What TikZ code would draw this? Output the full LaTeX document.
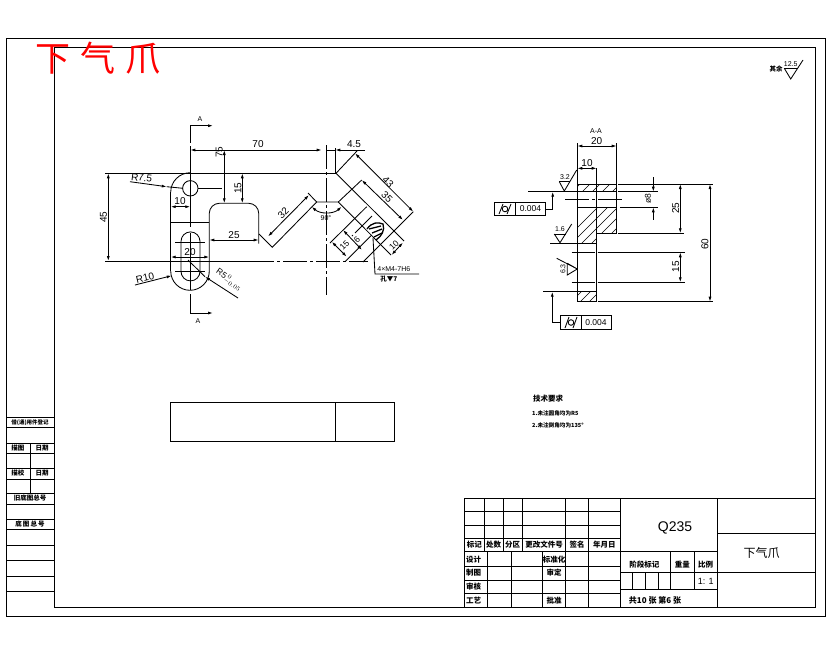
\documentclass[tikz,border=0pt]{standalone}
\usepackage{fontspec}
\setmainfont{Liberation Sans}
\newfontfamily\cjk{Noto Sans CJK SC}
\usetikzlibrary{arrows.meta}
\tikzset{
  >={Latex[length=5pt,width=3pt]},
  every node/.style={inner sep=0pt},
  cl/.style={dash pattern=on 24pt off 3pt on 3pt off 3pt},
  hatch/.style={line width=0.6pt},
  dimtext/.style={font=\fontsize{10}{10}\selectfont},
  armtext/.style={font=\fontsize{8.5}{9}\selectfont},
  smalltext/.style={font=\fontsize{7}{7}\selectfont},
  celltext/.style={font=\cjk\bfseries\fontsize{7.5}{8}\selectfont},
  tabletext/.style={font=\cjk\bfseries\fontsize{6.5}{7}\selectfont}
}
\begin{document}
\begin{tikzpicture}[x=1pt,y=-1pt,line width=0.85pt]
  \useasboundingbox (0,0) rectangle (830,654);

  \draw (6,38.5) rectangle (825,616.7);
  \draw (54.3,47.3) rectangle (815.7,607.3);

  \node[text=red,font=\cjk\fontsize{35}{35}\selectfont] (title) at (98,58.5) {下\hspace{10pt}气\hspace{10pt}爪};

  \node[tabletext] (note) at (776,68.5) {其余};
  \draw (784.3,68.3) -- (790.7,79) -- (803,60); \draw (784.3,68.3) -- (796.7,68.3);
  \node[smalltext] (ra) at (790.7,64) {12.5};

  \draw (105,173.3) -- (335.5,173.3);
  \draw (170.7,192.3) arc[start angle=180,end angle=270,radius=19.6];
  \draw (170.7,192.3) -- (170.7,271);
  \draw (209.3,271) arc[start angle=0,end angle=180,radius=19.3];
  \draw (170.7,222.3) -- (209.3,222.3);
  \draw (209.3,271) -- (209.3,213.3) arc[start angle=180,end angle=270,radius=10] -- (248.7,203.3) arc[start angle=270,end angle=360,radius=10] -- (258.7,243.5);
  \draw (181,241.4) arc[start angle=180,end angle=360,radius=9.5] -- (200,271.4) arc[start angle=0,end angle=180,radius=9.5] -- cycle;
  \draw (190.3,188.3) circle[radius=7.7];
  \draw (198,188.3) -- (222,188.3);

  \draw (190.3,125.7) -- (190.3,143); \draw (190.3,146) -- (190.3,227);
  \draw (190.3,233) -- (190.3,290); \draw (190.3,294) -- (190.3,313);
  \draw[->] (190.3,125.7) -- (213,125.7);
  \draw[->] (190.3,313) -- (213,313);
  \node[smalltext] (secta) at (200,119) {A};
  \node[smalltext] (sectb) at (198,321) {A};

  \draw (105,261) -- (250,261);
  \draw[cl] (250,261) -- (368,261);
  \draw (175,242.7) -- (205,242.7);
  \draw (175,271.7) -- (205,271.7);
  \draw[cl] (326,145) -- (326,295);

  \draw (259,234) -- (272.3,247.3) -- (316.7,202) -- (338.3,202);
  \draw (316.7,202) -- (308,193);
  \draw[<->] (268,236.5) -- (309,195);
  \node[dimtext,rotate=45] (d32) at (283.3,213) {32};

  \draw (336,173.3) -- (394,231) -- (404,241);
  \draw (338.3,202) -- (391,255);
  \draw (336,173.3) -- (357,151);
  \draw (338.3,202) -- (361.7,180);
  \draw (330,243) -- (366.7,206.7);
  \draw (413.3,211.7) -- (363,262);
  \draw (345,261.7) -- (371.7,235);
  \draw[cl] (372,216) -- (352,236);
  \draw[<->] (355,153.3) -- (413.3,211.7);
  \draw[<->] (361.7,180) -- (403,220);
  \draw[<->] (331.7,241.7) -- (346.7,256.7);
  \draw[<->] (343,230) -- (362,250);
  \draw[<->] (391.5,255) -- (403,242.5);
  \node[dimtext,rotate=-45] (d43) at (388,181.7) {43};
  \node[dimtext,rotate=-45] (d35) at (387,197) {35};
  \node[armtext,rotate=45] (d15b) at (344.5,245.5) {15};
  \node[armtext,rotate=45] (d6) at (357,239.5) {6};
  \node[armtext,rotate=45] (d10b) at (394,245) {10};

  \draw[line width=1.3pt] (367,229) .. controls (372,222) and (378,222) .. (383,224) .. controls (385,230) and (382,236) .. (376,240);
  \draw[line width=1.3pt] (369,229) -- (381,226); \draw[line width=1.3pt] (372,233) -- (382,229); \draw[line width=1.3pt] (374,237) -- (382,233);
  \draw (373,238) -- (375,274) -- (419,274);
  \node[smalltext,anchor=west] (hole) at (377,269.5) {4×M4-7H6};
  \node[tabletext,anchor=west] (depth) at (380,279.5) {孔▼7};

  \draw[<->] (321.7,150) -- (190.3,150);
  \draw (326,150) -- (335.3,150);
  \draw[->] (365,150) -- (335.3,150);
  \draw (335.3,148) -- (335.3,173.3);
  \node[dimtext] (d70) at (258,144.5) {70};
  \node[dimtext] (d45a) at (354,144.5) {4.5};
  \draw[<->] (224.3,150) -- (224.3,203.3);
  \node[dimtext,rotate=90] (d75) at (219.3,152) {75};
  \draw[<->] (242.3,173.3) -- (242.3,203.3);
  \node[dimtext,rotate=90] (d15a) at (238,188) {15};
  \draw[<->] (108.3,173.3) -- (108.3,261);
  \node[dimtext,rotate=90] (d45) at (103.5,217) {45};
  \draw[<->] (170.7,206.7) -- (190.3,206.7);
  \node[dimtext] (d10a) at (180,200.7) {10};
  \draw[<->] (209.3,240) -- (258.7,240);
  \node[dimtext] (d25a) at (234,235) {25};
  \draw[<->] (170.7,257) -- (209.3,257);
  \node[dimtext] (d20a) at (190,251.7) {20};
  \draw[<->] (341.7,206.7) arc[start angle=49,end angle=131,radius=22.9];
  \node[smalltext] (d90) at (326,218.5) {90°};

  \draw[->] (130,181.7) -- (166.7,186.7); \draw (166.7,186.7) -- (183,188.3);
  \node[dimtext,rotate=-7] (r75) at (141.7,178) {R7.5};
  \draw[->] (135,285) -- (171.7,275.7);
  \node[dimtext,rotate=13] (r10) at (145,278) {R10};
  \draw[->] (238,298) -- (205,276.7); \draw (205,276.7) -- (188,260);
  \node[armtext,rotate=-35] (r5) at (229,280) {R5$^{\,0}_{-0.05}$};

  \draw (577.3,143) -- (577.3,301.7) -- (596.7,301.7) -- (596.7,168);
  \draw (616.7,143) -- (616.7,233.3) -- (596.7,233.3);
  \draw (577.3,184) -- (616.7,184);
  \draw (528,191.7) -- (616.7,191.7);
  \draw (577.3,207.3) -- (616.7,207.3);
  \draw (550,243.3) -- (596.7,243.3);
  \draw (543,291.7) -- (596.7,291.7);

  \begin{scope}
    \clip (577.3,184) rectangle (616.7,191.7);
    \foreach \hx in {570,580,590,600,610,620} \draw[hatch] (\hx,194) -- ++(12,-12);
  \end{scope}
  \begin{scope}
    \clip (577.3,207.3) -- (616.7,207.3) -- (616.7,233.3) -- (596.7,233.3) -- (596.7,243.3) -- (577.3,243.3) -- cycle;
    \foreach \hx in {560,570,...,640} \draw[hatch] (\hx,245) -- ++(40,-40);
  \end{scope}
  \begin{scope}
    \clip (577.3,291.7) rectangle (596.7,301.7);
    \foreach \hx in {570,579,588,597} \draw[hatch] (\hx,303) -- ++(12,-12);
  \end{scope}

  \draw[cl] (565,199.3) -- (623,199.3);
  \draw[dash pattern=on 23pt off 3pt on 3pt off 3pt] (571.7,252.3) -- (600,252.3);
  \draw (600,252.3) -- (685,252.3);
  \draw[dash pattern=on 23pt off 3pt on 3pt off 3pt] (571.7,282.3) -- (600,282.3);
  \draw (600,282.3) -- (685,282.3);

  \draw (618,184) -- (713,184);
  \draw (618,233.3) -- (684,233.3);
  \draw (598,301.7) -- (713,301.7);
  \draw (618,191.7) -- (658,191.7);
  \draw (620,207.3) -- (658,207.3);

  \node[smalltext] (secname) at (596,131) {A-A};
  \draw[<->] (577.3,146) -- (616.7,146);
  \node[dimtext] (d20b) at (596.7,141) {20};
  \draw[<->] (577.3,168.3) -- (596.7,168.3);
  \node[dimtext] (d10c) at (587,163) {10};
  \draw[<->] (680.3,184) -- (680.3,233.3);
  \node[dimtext,rotate=90] (d25b) at (675.7,208) {25};
  \draw[<->] (710,184) -- (710,301.7);
  \node[dimtext,rotate=90] (d60) at (705,244) {60};
  \draw[<->] (680.3,252.3) -- (680.3,282.3);
  \node[dimtext,rotate=90] (d15c) at (675.7,266.7) {15};
  \draw[<-] (653.3,191.7) -- (653.3,176.7);
  \draw[<-] (653.3,207.3) -- (653.3,220);
  \node[armtext,rotate=90] (d8) at (648,198.5) {ø8};

  \draw (559.3,181.7) -- (564.3,191) -- (576.7,170); \draw (559.3,181.7) -- (570,181.7);
  \node[smalltext] (r32) at (565,177) {3.2};
  \draw (554.3,234) -- (560,242.7) -- (571.7,224); \draw (554.3,234) -- (566,234);
  \node[smalltext] (r16) at (560,229.5) {1.6};
  \draw (567.3,263.3) -- (577.3,269) -- (556.7,258.3); \draw (567.3,263.3) -- (567.3,275) -- (577.3,269);
  \node[smalltext,rotate=90] (r63) at (563,269) {6.3};

  \draw (494.3,202.3) rectangle (545.7,215.7);
  \draw (515,202.3) -- (515,215.7);
  \draw (499,214) -- (503,204); \draw (507,214) -- (511,204); \draw (505,209) circle[radius=2.8];
  \node[armtext] (tol1) at (530.5,209) {0.004};
  \draw[->] (545.7,209) -- (552.7,209) -- (552.7,191.7);

  \draw (560.3,315.3) rectangle (611,329.3);
  \draw (581,315.3) -- (581,329.3);
  \draw (565,328) -- (569,317); \draw (573,328) -- (577,317); \draw (571,322.5) circle[radius=2.8];
  \node[armtext] (tol2) at (596,322.3) {0.004};
  \draw[->] (560.3,322) -- (552.3,322) -- (552.3,291.7);

  \draw (170.3,402.7) rectangle (394.3,441);
  \draw (335,402.7) -- (335,441);

  \node[celltext] (req) at (548,399) {技术要求};
  \node[anchor=west,font=\cjk\bfseries\fontsize{5.6}{6}\selectfont] (req1) at (531.7,413.7) {1.未注圆角均为R5};
  \node[anchor=west,font=\cjk\bfseries\fontsize{5.6}{6}\selectfont] (req2) at (531.7,425.7) {2.未注倒角均为135°};

  \foreach \ly in {417.3,427.7,443.3,453.3,468.3,479,493.3,504.3,519.3,529.3,545,560.7,576,591.7} \draw (6,\ly) -- (54.3,\ly);
  \draw (30.3,443.3) -- (30.3,493.3);
  \node[font=\cjk\bfseries\fontsize{5.5}{6}\selectfont] (borrow) at (30,422.7) {借(通)用件登记};
  \node[tabletext] (trace) at (18,448.3) {描图}; \node[tabletext] (date1) at (42,448.3) {日期};
  \node[tabletext] (check) at (18,473.3) {描校}; \node[tabletext] (date2) at (42,473.3) {日期};
  \node[tabletext] (oldno) at (30,498.3) {旧底图总号};
  \node[tabletext] (baseno) at (30,524.3) {底\,图\,总\,号};

  \foreach \ty in {498.3,511.7,525,538.3,551.7,566.7,580,593.3} \draw (464.7,\ty) -- (620.3,\ty);
  \draw (464.7,498.3) rectangle (815.7,607.3);
  \foreach \tx in {484,503.3,522.3} \draw (\tx,498.3) -- (\tx,551.7);
  \draw (565.7,498.3) -- (565.7,607.3); \draw (588.3,498.3) -- (588.3,607.3);
  \draw (620.3,498.3) -- (620.3,607.3); \draw (717.3,498.3) -- (717.3,607.3);
  \foreach \tx in {487.3,511.7,542.7} \draw (\tx,551.7) -- (\tx,607.3);
  \draw (620.3,551.7) -- (717.3,551.7);
  \draw (620.3,572.7) -- (815.7,572.7);
  \draw (620.3,589.3) -- (717.3,589.3);
  \draw (717.3,533.3) -- (815.7,533.3);
  \draw (670,551.7) -- (670,589.3); \draw (694.7,551.7) -- (694.7,589.3);
  \foreach \tx in {632.7,645.7,658.3} \draw (\tx,572.7) -- (\tx,589.3);

  \node[font=\fontsize{14}{14}\selectfont] (material) at (675,527.7) {Q235};
  \node[font=\cjk\fontsize{12}{12}\selectfont] (partname) at (761.7,553.3) {下气爪};
  \node[celltext] (stage) at (644.3,565) {阶段标记};
  \node[celltext] (weight) at (682.3,565) {重量};
  \node[celltext] (scalehead) at (705.7,565) {比例};
  \node[font=\fontsize{9}{9}\selectfont] (scaleval) at (705.7,581.7) {1: 1};
  \node[font=\cjk\bfseries\fontsize{8}{8}\selectfont] (sheets) at (655,600.7) {共10 张 第6 张};

  \node[celltext] (h1) at (474.3,545) {标记};
  \node[celltext] (h2) at (493.7,545) {处数};
  \node[celltext] (h3) at (512.7,545) {分区};
  \node[celltext] (h4) at (544,545) {更改文件号};
  \node[celltext] (h5) at (577,545) {签名};
  \node[celltext] (h6) at (604.3,545) {年月日};
  \node[celltext] (s1) at (473.5,559.3) {设计};
  \node[celltext] (s2) at (554,559.3) {标准化};
  \node[celltext] (s3) at (473.5,572.7) {制图};
  \node[celltext] (s4) at (554,572.7) {审定};
  \node[celltext] (s5) at (473.5,586.7) {审核};
  \node[celltext] (s6) at (473.5,600.7) {工艺};
  \node[celltext] (s7) at (554,600.7) {批准};
\end{tikzpicture}
\end{document}
